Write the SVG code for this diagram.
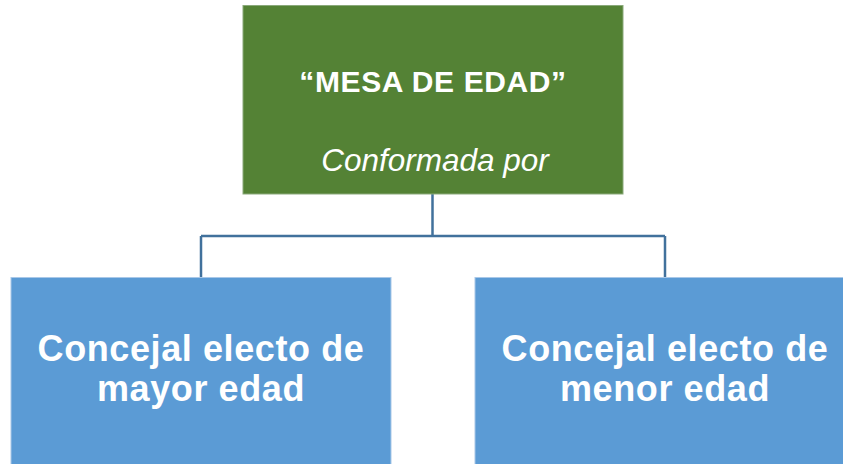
<svg xmlns="http://www.w3.org/2000/svg" width="843" height="464" viewBox="0 0 843 464">
<style>
.t{fill:#fff;font-family:"Liberation Sans",Arial,sans-serif;text-anchor:middle}
.b{font-weight:bold}
.i{font-style:italic}
.conn{fill:none;stroke:#41719C;stroke-width:2.5}
</style>
<rect width="843" height="464" fill="#fff"/>
<g id="connectors">
<path class="conn" d="M432.5 194 V236 M201 236 H665 M201 236 V277 M665 236 V277"/>
</g>
<g id="mesa">
<rect x="243" y="5.5" width="380" height="188.5" fill="#548235" stroke="#8aa97a" stroke-width="1"/>
<text class="t b" x="433" y="92" font-size="30" letter-spacing="0.6">“MESA DE EDAD”</text>
<text class="t i" x="435" y="171" font-size="31.5">Conformada por</text>
</g>
<g id="mayor">
<rect x="11" y="277.5" width="380" height="190" fill="#5B9BD5" stroke="#a9c8e8" stroke-width="1"/>
<text class="t b" x="201" y="361" font-size="36" letter-spacing="0.6">Concejal electo de</text>
<text class="t b" x="201" y="401" font-size="36" letter-spacing="0.6">mayor edad</text>
</g>
<g id="menor">
<rect x="475" y="277.5" width="380" height="190" fill="#5B9BD5" stroke="#a9c8e8" stroke-width="1"/>
<text class="t b" x="665" y="361" font-size="36" letter-spacing="0.6">Concejal electo de</text>
<text class="t b" x="665" y="401" font-size="36" letter-spacing="0.6">menor edad</text>
</g>
</svg>
